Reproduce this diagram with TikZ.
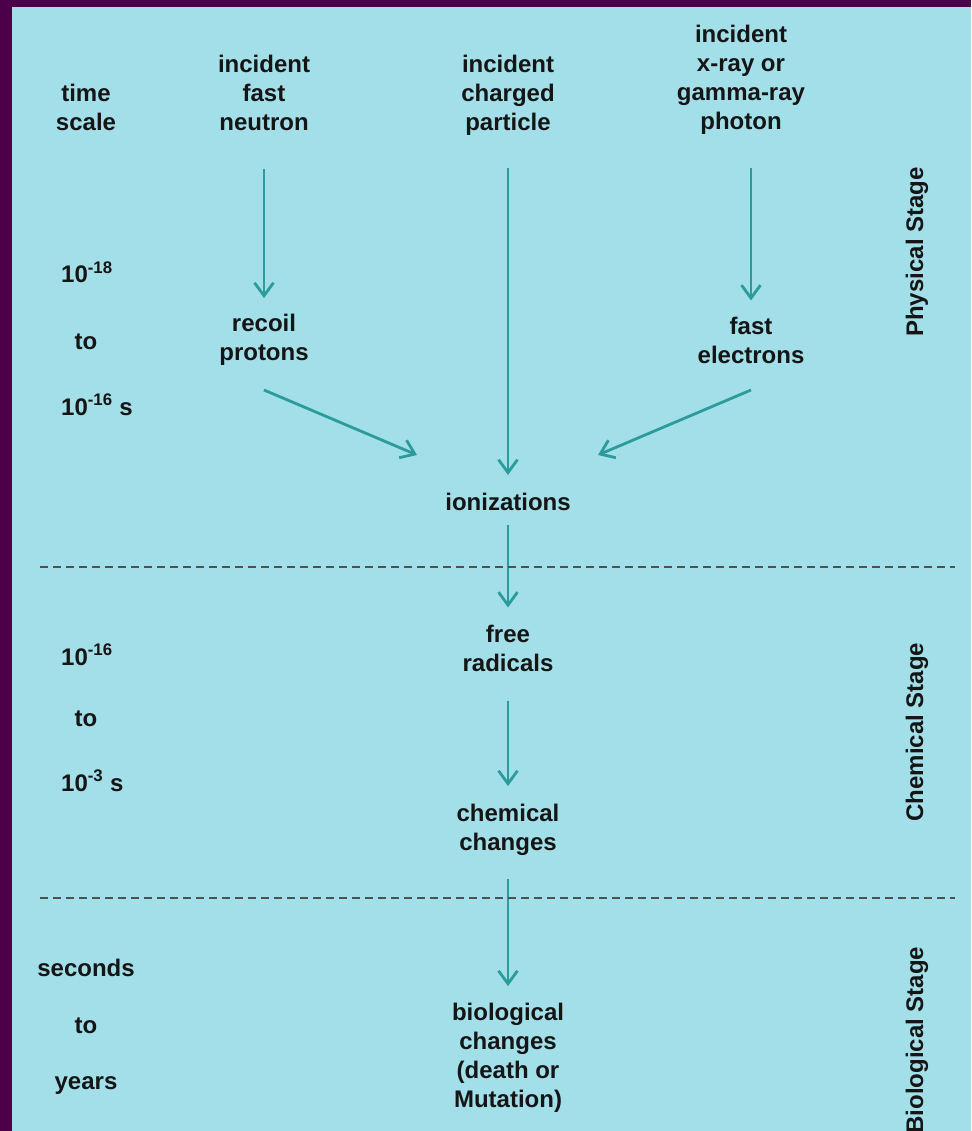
\documentclass[tikz,border=0pt]{standalone}
\usepackage{fontspec}
\setmainfont{Liberation Sans}
\usetikzlibrary{arrows.meta,positioning}
\definecolor{rdpurple}{HTML}{4B0049}
\definecolor{rdsky}{HTML}{A3DFE9}
\definecolor{rdteal}{HTML}{2B9B9B}
\definecolor{rdslate}{HTML}{505050}
\definecolor{rdink}{HTML}{151515}

\begin{document}
\begin{tikzpicture}[x=1pt,y=-1pt,
  font=\bfseries\fontsize{24}{29}\selectfont,
  lbl/.style={align=center,inner sep=0pt,text=rdink},
  tlbl/.style={inner sep=0pt,text=rdink,anchor=base west},
  tmid/.style={inner sep=0pt,text=rdink,anchor=base},
  stage/.style={inner sep=0pt,text=rdink,rotate=90},
  flow/.style={-{Straight Barb[length=13pt,width=19pt]},line width=2.8pt,draw=rdteal},
  border/.style={dashed,dash pattern=on 8pt off 5pt,line width=2pt,draw=rdslate},
]

% backdrop and frame
\clip (0,0) rectangle (971,1131);
\fill[rdpurple] (0,0) rectangle (971,1131);
\fill[rdsky] (12,7) rectangle (971,1131);

% column heads
\node[lbl] (timescale) at (86,107) {time\\scale};
\node[lbl] (neutron) at (264,93) {incident\\fast\\neutron};
\node[lbl] (charged) at (508,95) {incident\\charged\\particle};
\node[lbl] (photon) at (741,80) {incident\\x-ray or\\gamma-ray\\photon};

% physical stage
\node[lbl] (recoil) at (264,340) {recoil\\protons};
\node[lbl] (fastel) at (751,340) {fast\\electrons};
\node[lbl] (ionize) at (508,502) {ionizations};

\coordinate (recoil-foot) at (264,390);
\coordinate (ion-left) at (417,455);
\coordinate (fastel-foot) at (751,390);
\coordinate (ion-right) at (598,455);

\draw[flow,shorten <=38pt,shorten >=16pt] (neutron) -- (recoil);
\draw[flow,shorten <=33pt,shorten >=18pt] (charged) -- (ionize);
\draw[flow,shorten <=33pt,shorten >=16pt] (photon.south -| fastel) -- (fastel);
\draw[flow] (recoil-foot) -- (ion-left);
\draw[flow] (fastel-foot) -- (ion-right);

% chemical stage
\node[lbl] (radicals) at (508,648) {free\\radicals};
\node[lbl] (chemical) at (508,830) {chemical\\changes};
\draw[flow,shorten <=14pt,shorten >=17pt] (ionize) -- (radicals);
\draw[flow,shorten <=29pt,shorten >=18pt] (radicals) -- (chemical);

% biological stage
\node[lbl] (bio) at (508,1058) {biological\\changes\\(death or\\Mutation)};
\draw[flow,shorten <=23pt,shorten >=17pt] (chemical) -- (bio);

% stage borders
\coordinate (cut1-l) at (40,567);
\coordinate (cut1-r) at (955,567);
\coordinate (cut2-l) at (40,898);
\coordinate (cut2-r) at (955,898);
\draw[border] (cut1-l) -- (cut1-r);
\draw[border] (cut2-l) -- (cut2-r);

% time scale
\node[tlbl] (phys-from) at (61,283) {10\textsuperscript{-18}};
\node[tmid] (phys-to) at (86,349) {to};
\node[tlbl] (phys-till) at (61,415) {10\textsuperscript{-16} s};
\node[tlbl] (chem-from) at (61,665) {10\textsuperscript{-16}};
\node[tmid] (chem-to) at (86,726) {to};
\node[tlbl] (chem-till) at (61,791) {10\textsuperscript{-3} s};
\node[tmid] (bio-from) at (86,976) {seconds};
\node[tmid] (bio-to) at (86,1033) {to};
\node[tmid] (bio-till) at (86,1089) {years};

% stage names
\node[stage] (phys-name) at (917,252) {Physical Stage};
\node[stage] (chem-name) at (917,732) {Chemical Stage};
\node[stage] (bio-name) at (917,1040) {Biological Stage};

\end{tikzpicture}
\end{document}
